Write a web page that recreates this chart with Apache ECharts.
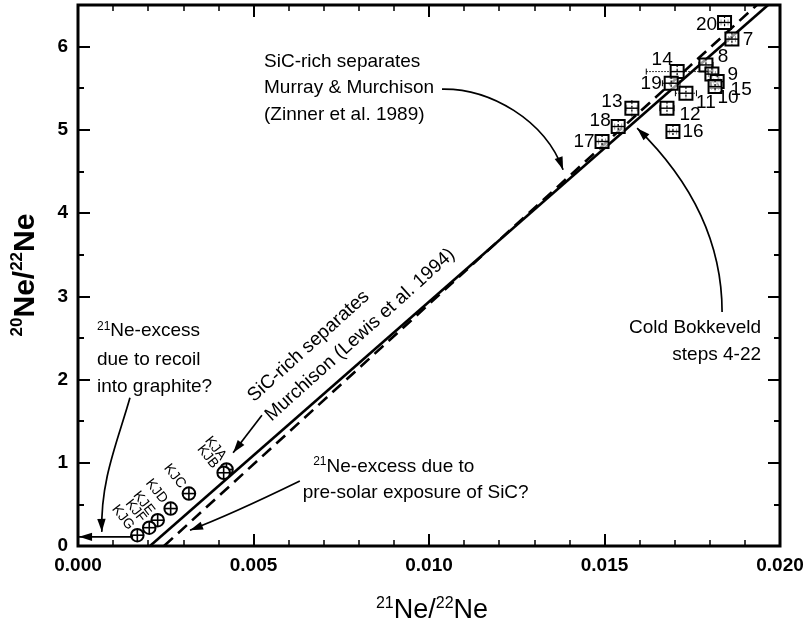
<!DOCTYPE html>
<html>
<head>
<meta charset="utf-8">
<script src="https://cdn.jsdelivr.net/npm/echarts@6/dist/echarts.min.js"></script>
<style>
  html, body { margin: 0; padding: 0; background: #fff; }
  #chart { width: 812px; height: 634px; }
</style>
</head>
<body>
<div id="chart"></div>
<script>
// ---- Cold Bokkeveld stepwise release (21Ne/22Ne, 20Ne/22Ne) ----
const cbSteps = ['20', '7', '8', '9', '15', '10', '14', '19', '11', '12', '16', '13', '18', '17'];
const cbX     = [0.01842, 0.01863, 0.01789, 0.01806, 0.01821, 0.01815, 0.01707, 0.01690, 0.01732, 0.01678, 0.01695, 0.01578, 0.01539, 0.01493];
const cbY     = [6.29, 6.09, 5.78, 5.67, 5.58, 5.52, 5.70, 5.56, 5.44, 5.26, 4.98, 5.26, 5.04, 4.86];
const cbXErr  = [0.0001, 0.0001, 0.0002, 0.0001, 0.0001, 0.0001, 0.00088, 0.00025, 0.0003, 0.0002, 0.0001, 0.00015, 0.0001, 0.0001];
const cbYErr  = [0.05, 0.05, 0.08, 0.10, 0.06, 0.06, 0.08, 0.05, 0.06, 0.08, 0.04, 0.10, 0.06, 0.04];

// ---- SiC-rich separates, Murchison KJ series ----
const kjNames = ['KJA', 'KJB', 'KJC', 'KJD', 'KJE', 'KJF', 'KJG'];
const kjX     = [0.00423, 0.00415, 0.00316, 0.00264, 0.00227, 0.00203, 0.00169];
const kjY     = [0.92, 0.88, 0.63, 0.45, 0.31, 0.22, 0.13];

// ---- correlation lines (endpoints in data units) ----
const lewisLine  = [[0.00205, 0], [0.01966, 6.5]];   // Lewis et al. 1994
const zinnerLine = [[0.00245, 0], [0.01934, 6.5]];   // Zinner et al. 1989

// ---- axes ----
const xRange = [0, 0.020];
const yRange = [0, 6.5];
const xMajor = 0.005;
const yMajor = 1;
const yMinor = 0.5;

// ---- label placement (pixel offsets from marker centre) ----
const cbLabelOffset = [[-18, 2], [16, 1], [17, -8], [21, 1], [24, 8], [13, 11], [-15, -12],
                       [-20, 1], [20, 10], [23, 7], [20, 0], [-20, -6], [-18, -6], [-18, 0]];
const kjLabelOffset = [[-3, -11], [-8, -6], [-6, -7], [-6, -7], [-6, -7], [-6, -7], [-6, -7]];

const FONT = '"Liberation Sans", Arial, Helvetica, sans-serif';
const chart = echarts.init(document.getElementById('chart'));

function tickAxis(kind, position, interval, len, showLabel, extra) {
  const a = {
    type: 'value',
    position: position,
    min: kind === 'x' ? xRange[0] : yRange[0],
    max: kind === 'x' ? xRange[1] : yRange[1],
    interval: interval,
    axisLine: { show: false, onZero: false },
    axisTick: { show: true, inside: true, length: len, lineStyle: { color: '#000', width: 2 } },
    splitLine: { show: false },
    axisLabel: { show: showLabel }
  };
  return Object.assign(a, extra || {});
}

const xLabel = {
  show: true, color: '#000', fontSize: 19, fontWeight: 'bold', fontFamily: FONT, margin: 10,
  formatter: v => v.toFixed(3)
};
const yLabel = {
  show: true, color: '#000', fontSize: 19, fontWeight: 'bold', fontFamily: FONT, margin: 10,
  formatter: v => (Math.abs(v - Math.round(v)) < 1e-9 ? String(Math.round(v)) : '')
};
const minorX = { show: true, splitNumber: 5, length: 6, lineStyle: { color: '#000', width: 1.5 } };

const option = {
  animation: false,
  backgroundColor: '#fff',
  grid: { left: 78, right: 32, top: 5, bottom: 88, show: true, borderColor: '#000', borderWidth: 3, backgroundColor: 'transparent' },
  xAxis: [
    tickAxis('x', 'bottom', xMajor, 12, true, { axisLabel: xLabel, minorTick: minorX }),
    tickAxis('x', 'top', xMajor, 12, false, { minorTick: minorX })
  ],
  yAxis: [
    tickAxis('y', 'left', yMajor, 12, true, { axisLabel: yLabel }),
    tickAxis('y', 'left', yMinor, 6, false),
    tickAxis('y', 'right', yMajor, 12, false),
    tickAxis('y', 'right', yMinor, 6, false)
  ],
  series: [
    {
      type: 'line', name: 'Lewis et al. 1994', data: lewisLine, xAxisIndex: 0, yAxisIndex: 0,
      symbol: 'none', clip: true, lineStyle: { color: '#000', width: 2.6 }, z: 3
    },
    {
      type: 'line', name: 'Zinner et al. 1989', data: zinnerLine, xAxisIndex: 0, yAxisIndex: 0,
      symbol: 'none', clip: true, lineStyle: { color: '#000', width: 2.6, type: [12, 7] }, z: 3
    },
    {
      type: 'custom', name: 'Cold Bokkeveld', xAxisIndex: 0, yAxisIndex: 0, z: 5,
      data: cbX.map((x, i) => [x, cbY[i], cbXErr[i], cbYErr[i], i]),
      renderItem: function (params, api) {
        const x = api.value(0), y = api.value(1), xe = api.value(2), ye = api.value(3), i = api.value(4);
        const c = api.coord([x, y]);
        const kids = [];
        const errStyle = { stroke: '#000', lineWidth: 1, lineDash: [1.5, 1.5] };
        if (xe > 0) {
          const a = api.coord([x - xe, y]), b = api.coord([x + xe, y]);
          kids.push({ type: 'line', shape: { x1: a[0], y1: a[1], x2: b[0], y2: b[1] }, style: errStyle });
          kids.push({ type: 'line', shape: { x1: a[0], y1: a[1] - 3, x2: a[0], y2: a[1] + 3 }, style: { stroke: '#000', lineWidth: 1 } });
          kids.push({ type: 'line', shape: { x1: b[0], y1: b[1] - 3, x2: b[0], y2: b[1] + 3 }, style: { stroke: '#000', lineWidth: 1 } });
        }
        if (ye > 0) {
          const a = api.coord([x, y - ye]), b = api.coord([x, y + ye]);
          kids.push({ type: 'line', shape: { x1: a[0], y1: a[1], x2: b[0], y2: b[1] }, style: errStyle });
        }
        const s = 6.5;
        kids.push({ type: 'rect', shape: { x: c[0] - s, y: c[1] - s, width: 2 * s, height: 2 * s },
                    style: { fill: 'rgba(255,255,255,0.6)', stroke: '#000', lineWidth: 2 } });
        kids.push({ type: 'line', shape: { x1: c[0] - s, y1: c[1], x2: c[0] + s, y2: c[1] }, style: { stroke: '#000', lineWidth: 1.4 } });
        kids.push({ type: 'line', shape: { x1: c[0], y1: c[1] - s, x2: c[0], y2: c[1] + s }, style: { stroke: '#000', lineWidth: 1.2, lineDash: [2, 2] } });
        const off = cbLabelOffset[i];
        kids.push({ type: 'text', x: c[0] + off[0], y: c[1] + off[1],
                    style: { text: cbSteps[i], fill: '#000', fontSize: 19, fontFamily: FONT, align: 'center', verticalAlign: 'middle' } });
        return { type: 'group', children: kids };
      }
    },
    {
      type: 'custom', name: 'Murchison KJ', xAxisIndex: 0, yAxisIndex: 0, z: 5,
      data: kjX.map((x, i) => [x, kjY[i], i]),
      renderItem: function (params, api) {
        const i = api.value(2);
        const c = api.coord([api.value(0), api.value(1)]);
        const r = 6.3;
        const off = kjLabelOffset[i];
        return {
          type: 'group',
          children: [
            { type: 'circle', shape: { cx: c[0], cy: c[1], r: r }, style: { fill: '#fff', stroke: '#000', lineWidth: 2 } },
            { type: 'line', shape: { x1: c[0] - r, y1: c[1], x2: c[0] + r, y2: c[1] }, style: { stroke: '#000', lineWidth: 1.6 } },
            { type: 'line', shape: { x1: c[0], y1: c[1] - r, x2: c[0], y2: c[1] + r }, style: { stroke: '#000', lineWidth: 1.6 } },
            { type: 'text', x: c[0] + off[0], y: c[1] + off[1], rotation: -52 * Math.PI / 180,
              style: { text: kjNames[i], fill: '#000', fontSize: 14, fontFamily: FONT, align: 'right', verticalAlign: 'middle' } }
          ]
        };
      }
    }
  ]
};

chart.setOption(option);

// ---- annotations (anchors in data units, converted through the axes) ----
const notes = [
  { lines: ['SiC-rich separates', 'Murray & Murchison', '(Zinner et al. 1989)'], x: 0.00530, y: [5.82, 5.50, 5.18], align: 'left' },
  { lines: ['Cold Bokkeveld', 'steps 4-22'], x: 0.01946, y: [2.62, 2.30], align: 'right' },
  { lines: ['{s|21}Ne-excess', 'due to recoil', 'into graphite?'], x: 0.00054, y: [2.58, 2.24, 1.91], align: 'left' },
  { lines: ['{s|21}Ne-excess due to'], x: 0.00670, y: [0.95], align: 'left' },
  { lines: ['pre-solar exposure of SiC?'], x: 0.00640, y: [0.64], align: 'left' }
];
// rotated label along the Lewis et al. line: start of 2nd line, angle in degrees
const lewisNote = { lines: ['SiC-rich separates', 'Murchison (Lewis et al. 1994)'], x: 0.00541, y: 1.54, angle: 42, spacing: 26 };

// curved arrows: [start, control1, control2, end] ; straight: [start, end]
const arrows = [
  [[0.01037, 5.49], [0.01174, 5.50], [0.01330, 5.12], [0.01382, 4.52]],
  [[0.01835, 2.81], [0.01835, 3.68], [0.01744, 4.40], [0.01593, 5.02]],
  [[0.00148, 1.78], [0.00114, 1.27], [0.00063, 0.79], [0.00068, 0.17]],
  [[0.00632, 0.78], [0.00520, 0.55], [0.00420, 0.35], [0.00319, 0.19]],
  [[0.00524, 1.57], [0.00442, 1.12]],
  [[0.00157, 0.11], [0.00003, 0.11]]
];

const toPx = p => chart.convertToPixel({ xAxisIndex: 0, yAxisIndex: 0 }, p);
const richSup = { s: { fontSize: 12, fontFamily: FONT, verticalAlign: 'top', lineHeight: 12 }, n: {} };
const graphics = [];

notes.forEach(n => {
  n.lines.forEach((t, k) => {
    const p = toPx([n.x, n.y[k]]);
    graphics.push({
      type: 'text', x: p[0], y: p[1], z: 10,
      style: { text: t, fill: '#000', fontSize: 19, fontFamily: FONT, align: n.align, verticalAlign: 'middle',
               lineHeight: 22, rich: richSup }
    });
  });
});

(function () {
  const p = toPx([lewisNote.x, lewisNote.y]);
  const a = lewisNote.angle * Math.PI / 180;
  graphics.push({
    type: 'group', x: p[0], y: p[1], rotation: a, z: 10,
    children: lewisNote.lines.map((t, k) => ({
      type: 'text', x: 0, y: (k - 1) * lewisNote.spacing,
      style: { text: t, fill: '#000', fontSize: 19, fontFamily: FONT, align: 'left', verticalAlign: 'middle' }
    }))
  });
})();

function head(tip, from) {
  const dx = tip[0] - from[0], dy = tip[1] - from[1];
  const L = Math.hypot(dx, dy) || 1;
  const ux = dx / L, uy = dy / L;
  const len = 13, hw = 4.2;
  const bx = tip[0] - ux * len, by = tip[1] - uy * len;
  return {
    type: 'polygon', z: 11,
    shape: { points: [[tip[0], tip[1]], [bx - uy * hw, by + ux * hw], [bx + uy * hw, by - ux * hw]] },
    style: { fill: '#000' }
  };
}

arrows.forEach(a => {
  const P = a.map(toPx);
  if (P.length === 4) {
    graphics.push({
      type: 'bezierCurve', z: 11,
      shape: { x1: P[0][0], y1: P[0][1], cpx1: P[1][0], cpy1: P[1][1], cpx2: P[2][0], cpy2: P[2][1], x2: P[3][0], y2: P[3][1] },
      style: { stroke: '#000', lineWidth: 1.7, fill: null }
    });
    graphics.push(head(P[3], P[2]));
  } else {
    graphics.push({
      type: 'line', z: 11,
      shape: { x1: P[0][0], y1: P[0][1], x2: P[1][0], y2: P[1][1] },
      style: { stroke: '#000', lineWidth: 1.7 }
    });
    graphics.push(head(P[1], P[0]));
  }
});

// axis titles with superscript mass numbers
graphics.push({
  type: 'text', x: 432, y: 611, z: 10,
  style: { text: '{s|21}Ne/{s|22}Ne', fill: '#000', fontSize: 27, fontFamily: FONT, align: 'center', verticalAlign: 'middle', lineHeight: 30,
           rich: { s: { fontSize: 16, fontFamily: FONT, verticalAlign: 'top', lineHeight: 14 }, n: {} } }
});
graphics.push({
  type: 'text', x: 26, y: 275, rotation: Math.PI / 2, z: 10,
  style: { text: '{s|20}Ne/{s|22}Ne', fill: '#000', fontSize: 30, fontWeight: 'bold', fontFamily: FONT, align: 'center', verticalAlign: 'middle', lineHeight: 34,
           rich: { s: { fontSize: 17, fontWeight: 'bold', fontFamily: FONT, verticalAlign: 'top', lineHeight: 16 }, n: {} } }
});

chart.setOption({ graphic: graphics });
</script>
</body>
</html>
